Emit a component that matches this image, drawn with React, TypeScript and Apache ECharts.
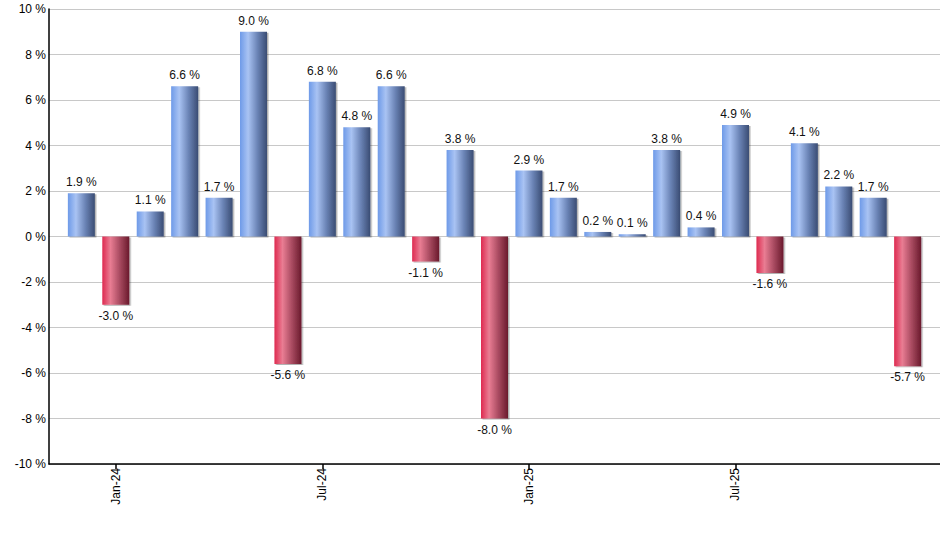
import { useEffect, useRef } from "react";
import * as echarts from "echarts";

// monthly returns, Dec-23 .. Dec-25
const months = [
  "Dec-23", "Jan-24", "Feb-24", "Mar-24", "Apr-24", "May-24", "Jun-24",
  "Jul-24", "Aug-24", "Sep-24", "Oct-24", "Nov-24", "Dec-24",
  "Jan-25", "Feb-25", "Mar-25", "Apr-25", "May-25", "Jun-25",
  "Jul-25", "Aug-25", "Sep-25", "Oct-25", "Nov-25", "Dec-25",
];
const returns = [
  1.9, -3.0, 1.1, 6.6, 1.7, 9.0, -5.6,
  6.8, 4.8, 6.6, -1.1, 3.8, -8.0,
  2.9, 1.7, 0.2, 0.1, 3.8, 0.4,
  4.9, -1.6, 4.1, 2.2, 1.7, -5.7,
];
const labelledMonths = ["Jan-24", "Jul-24", "Jan-25", "Jul-25"];
const yTicks = [-10, -8, -6, -4, -2, 0, 2, 4, 6, 8, 10];

const FONT = "'Liberation Sans', Arial, sans-serif";

const blue = new echarts.graphic.LinearGradient(0, 0, 1, 0, [
  { offset: 0, color: "#6e9ae8" },
  { offset: 0.3, color: "#a9c3f3" },
  { offset: 0.65, color: "#6a83b5" },
  { offset: 1, color: "#3a4c73" },
]);
const red = new echarts.graphic.LinearGradient(0, 0, 1, 0, [
  { offset: 0, color: "#de2a50" },
  { offset: 0.3, color: "#e97d93" },
  { offset: 0.65, color: "#a84a60" },
  { offset: 1, color: "#6a1a2c" },
]);

export default function App() {
  const ref = useRef<HTMLDivElement | null>(null);

  useEffect(() => {
    document.body.style.margin = "0";
    if (!ref.current) return;
    const chart = echarts.init(ref.current, null, { renderer: "svg" });

    const tickIdx = labelledMonths.map((m) => months.indexOf(m));

    chart.setOption({
      animation: false,
      textStyle: { fontFamily: FONT },
      grid: { left: 49, right: 0, top: 9, bottom: 86, containLabel: false },
      xAxis: {
        type: "value",
        min: -0.94,
        max: months.length - 1 + 0.94,
        axisLine: { show: true, onZero: false, lineStyle: { color: "#000", width: 1.5 } },
        axisTick: { show: true, customValues: tickIdx, length: 5, lineStyle: { color: "#000", width: 1.5 } },
        axisLabel: {
          customValues: tickIdx,
          rotate: 90,
          margin: 4,
          color: "#000",
          fontSize: 12,
          fontFamily: FONT,
          formatter: (v: number) => months[Math.round(v)],
        },
        splitLine: { show: false },
      },
      yAxis: {
        type: "value",
        min: yTicks[0],
        max: yTicks[yTicks.length - 1],
        interval: 2,
        axisLine: { show: true, onZero: false, lineStyle: { color: "#000", width: 1.5 } },
        axisTick: { show: false },
        axisLabel: {
          color: "#000",
          fontSize: 12,
          fontFamily: FONT,
          margin: 3,
          formatter: (v: number) => `${v} %`,
        },
        splitLine: { lineStyle: { color: "#c8c8c8", width: 1 } },
      },
      series: [
        {
          type: "bar",
          barWidth: 27,
          data: returns.map((v, i) => ({
            value: [i, v],
            itemStyle: {
              color: v >= 0 ? blue : red,
              shadowColor: "rgba(0,0,0,0.3)",
              shadowBlur: 1,
              shadowOffsetX: 1.5,
              shadowOffsetY: 1,
            },
            label: { position: v >= 0 ? "top" : "bottom" },
          })),
          label: {
            show: true,
            distance: 5,
            color: "#111",
            fontSize: 12,
            fontFamily: FONT,
            formatter: (p: any) => `${p.value[1].toFixed(1)} %`,
          },
        },
      ],
    });

    return () => chart.dispose();
  }, []);

  return <div ref={ref} style={{ width: 940, height: 550 }} />;
}
